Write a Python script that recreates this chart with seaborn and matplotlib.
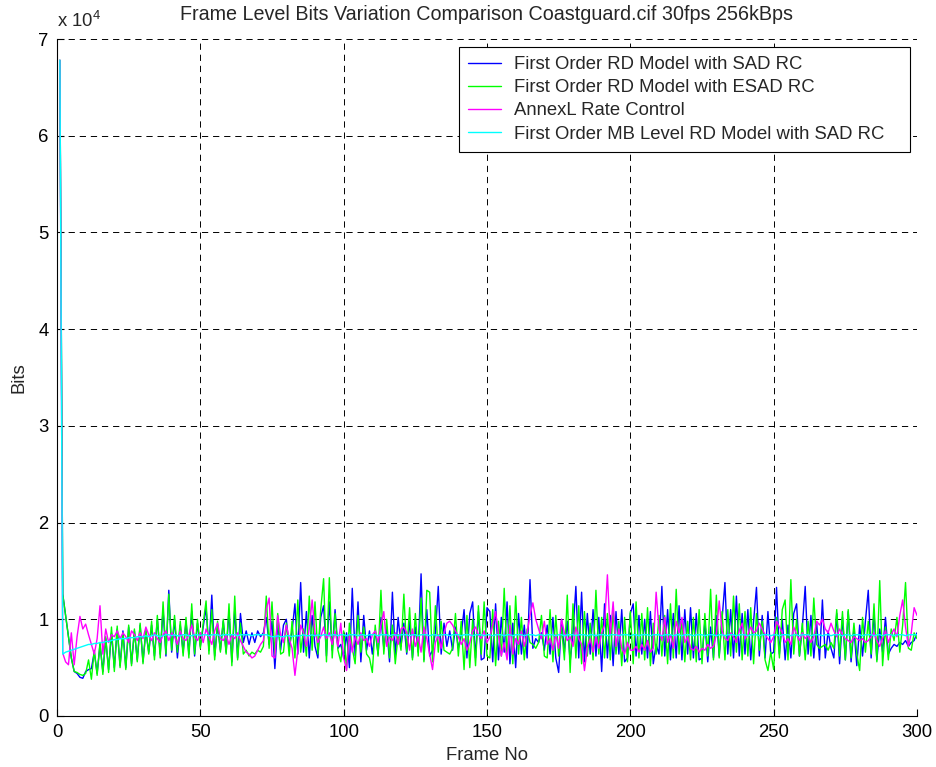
import numpy as np
import pandas as pd
import matplotlib
matplotlib.use("Agg")
import matplotlib.pyplot as plt
import seaborn as sns

# Bits spent on each frame (kilobits), frames 1..300
sad_rc = [
    67.8, 12.6, 10.4, 8.2, 6.0, 4.6, 4.4, 4.0, 3.9, 4.6,
    4.8, 4.9, 6.6, 4.4, 7.4, 4.6, 8.0, 4.8, 8.6, 5.0,
    9.0, 5.2, 8.8, 5.0, 9.2, 5.4, 8.8, 5.8, 9.4, 5.6,
    8.8, 6.6, 9.4, 6.2, 10.0, 6.4, 11.0, 6.2, 13.0, 6.6,
    10.0, 6.0, 9.4, 6.6, 9.8, 6.4, 10.8, 6.2, 9.6, 7.2,
    9.2, 11.2, 6.8, 12.5, 6.2, 9.4, 6.8, 9.8, 6.6, 10.8,
    5.6, 11.0, 6.0, 10.6, 7.6, 8.8, 7.4, 8.6, 7.6, 8.8,
    8.2, 8.6, 10.2, 7.4, 9.8, 4.9, 9.6, 6.8, 9.4, 10.0,
    7.0, 8.8, 11.6, 6.4, 13.8, 6.6, 10.8, 6.0, 10.4, 7.2,
    6.0, 10.2, 11.4, 6.2, 11.8, 6.8, 11.0, 7.0, 7.4, 6.0,
    8.6, 5.0, 13.2, 6.2, 11.8, 5.6, 10.4, 6.8, 8.8, 6.4,
    8.8, 6.4, 10.2, 7.0, 9.2, 5.6, 12.8, 6.2, 10.2, 7.2,
    9.6, 6.4, 9.8, 6.0, 9.2, 6.6, 14.7, 5.8, 11.0, 6.2,
    6.8, 8.6, 13.4, 6.4, 9.6, 7.2, 8.8, 6.8, 9.2, 7.0,
    8.4, 11.0, 6.0, 10.6, 11.8, 6.0, 10.8, 5.8, 6.0, 11.2,
    10.8, 5.6, 11.6, 5.8, 10.2, 6.6, 11.8, 5.4, 9.6, 5.0,
    10.6, 6.4, 9.4, 6.0, 14.1, 7.0, 8.0, 7.6, 8.6, 6.8,
    9.4, 6.4, 10.2, 6.0, 4.5, 10.0, 6.6, 9.8, 5.6, 8.6,
    13.4, 6.0, 12.8, 5.6, 10.6, 6.4, 11.0, 6.2, 10.2, 4.6,
    11.6, 6.0, 10.4, 5.2, 10.8, 6.4, 11.0, 5.6, 6.0, 10.6,
    11.6, 6.2, 10.4, 6.4, 10.0, 6.0, 10.8, 5.4, 7.4, 6.4,
    13.4, 6.2, 11.0, 5.8, 10.6, 6.0, 11.4, 5.8, 11.0, 6.4,
    11.2, 6.0, 10.6, 5.8, 6.0, 9.8, 5.6, 9.2, 6.0, 10.4,
    6.2, 10.0, 13.8, 6.4, 11.0, 6.0, 12.4, 6.2, 10.6, 6.4,
    11.0, 5.8, 9.8, 13.3, 6.2, 10.4, 6.0, 10.8, 6.4, 6.6,
    13.3, 6.4, 10.0, 5.8, 9.4, 6.0, 10.6, 11.6, 6.2, 9.2,
    13.4, 6.4, 10.4, 6.0, 9.6, 5.8, 12.0, 6.0, 8.8, 7.0,
    6.0, 10.6, 5.4, 10.2, 5.8, 10.8, 5.6, 9.0, 5.2, 9.4,
    6.2, 9.8, 13.0, 6.0, 10.6, 5.8, 9.0, 6.6, 10.2, 6.4,
    7.0, 7.4, 7.2, 7.6, 7.4, 7.8, 7.2, 7.6, 7.8, 8.6,
]

esad_rc = [
    67.8, 12.6, 10.4, 8.2, 6.0, 4.6, 4.5, 4.3, 4.2, 4.4,
    5.8, 3.8, 6.8, 4.2, 7.6, 4.3, 8.2, 4.5, 9.2, 4.6,
    9.3, 5.0, 8.6, 4.8, 9.4, 5.2, 9.0, 5.6, 9.6, 5.4,
    9.0, 6.4, 9.8, 5.8, 10.4, 6.0, 11.8, 6.4, 12.6, 6.8,
    10.4, 6.6, 9.8, 6.2, 10.2, 6.0, 11.6, 6.4, 10.0, 7.0,
    9.6, 11.9, 6.4, 11.0, 5.8, 9.8, 6.6, 10.0, 6.4, 11.6,
    5.2, 12.4, 5.8, 9.6, 6.4, 6.8, 6.2, 6.6, 6.4, 6.8,
    6.6, 7.2, 12.4, 7.0, 11.8, 6.4, 10.6, 6.4, 6.6, 9.6,
    6.2, 9.8, 6.0, 12.0, 6.6, 9.0, 6.2, 12.4, 6.8, 11.8,
    6.4, 11.0, 14.2, 5.6, 14.3, 6.0, 10.6, 6.8, 5.6, 8.8,
    4.8, 9.6, 7.0, 5.4, 10.4, 6.6, 9.2, 6.4, 6.0, 4.5,
    9.4, 6.2, 13.0, 6.4, 10.0, 6.0, 9.4, 5.4, 8.4, 6.8,
    12.6, 6.6, 11.2, 5.8, 10.6, 6.2, 12.2, 5.6, 13.0, 12.8,
    5.6, 11.4, 6.6, 9.8, 6.8, 6.6, 6.4, 7.0, 10.6, 6.2,
    9.8, 4.8, 10.4, 5.0, 10.0, 5.2, 11.4, 6.4, 11.8, 6.2,
    6.0, 11.0, 5.2, 9.8, 6.2, 13.2, 6.0, 11.4, 5.4, 12.4,
    6.4, 10.2, 5.8, 9.0, 7.6, 7.4, 7.0, 7.6, 10.4, 6.2,
    6.0, 11.0, 5.6, 10.4, 6.2, 9.2, 5.8, 12.5, 4.5, 11.6,
    6.0, 11.4, 5.4, 10.8, 6.2, 9.6, 5.8, 13.0, 6.4, 10.2,
    6.0, 10.6, 5.8, 11.0, 6.4, 9.8, 5.2, 10.2, 5.6, 10.8,
    5.4, 11.8, 6.0, 10.6, 5.8, 11.2, 5.2, 9.6, 6.4, 10.4,
    6.2, 10.4, 5.4, 11.6, 6.0, 13.1, 6.4, 10.0, 5.6, 9.8,
    5.8, 10.2, 5.6, 11.0, 5.4, 10.6, 6.2, 13.1, 5.8, 12.5,
    6.0, 10.8, 5.8, 11.0, 6.2, 12.4, 6.6, 11.6, 5.8, 10.8,
    6.2, 11.2, 5.4, 10.6, 6.8, 9.8, 5.8, 4.7, 6.6, 4.8,
    10.2, 6.0, 11.0, 12.0, 5.8, 14.1, 6.4, 10.0, 6.2, 9.6,
    5.8, 9.8, 6.2, 12.2, 7.4, 7.0, 7.2, 7.4, 6.8, 7.6,
    7.0, 11.0, 6.2, 10.8, 5.8, 11.0, 6.0, 9.6, 6.4, 4.7,
    10.2, 6.6, 9.8, 6.4, 11.6, 5.6, 14.0, 5.2, 9.2, 5.8,
    9.0, 7.8, 10.2, 6.6, 9.4, 13.8, 7.0, 6.8, 8.6, 8.0,
]

annexl_rc = [
    67.8, 6.5, 5.6, 5.3, 8.6, 5.3, 8.2, 10.3, 9.0, 9.5,
    8.4, 7.4, 6.4, 8.0, 11.4, 6.4, 9.0, 7.6, 8.4, 8.2,
    8.8, 8.0, 8.6, 8.2, 7.6, 8.8, 8.4, 7.8, 8.6, 8.0,
    9.2, 8.4, 7.8, 8.6, 8.0, 7.6, 8.4, 8.8, 7.8, 8.6,
    8.2, 7.4, 8.8, 8.0, 7.8, 8.4, 9.4, 8.2, 7.8, 8.6,
    7.6, 9.0, 8.2, 7.4, 8.8, 9.6, 8.0, 7.8, 8.4, 7.4,
    8.4, 8.0, 8.6, 7.8, 7.2, 6.6, 6.4, 6.0, 6.2, 6.8,
    7.4, 7.8, 11.0, 12.2, 6.2, 6.0, 10.4, 8.4, 7.6, 9.4,
    8.0, 7.0, 4.2, 6.8, 9.4, 8.6, 7.2, 9.0, 12.0, 8.6,
    7.6, 8.2, 9.2, 8.0, 8.6, 7.4, 8.8, 7.2, 9.6, 6.0,
    4.7, 8.4, 6.6, 8.2, 7.4, 8.6, 7.8, 8.0, 7.2, 8.4,
    8.8, 7.6, 9.4, 10.8, 7.2, 8.2, 7.8, 8.6, 7.4, 9.0,
    9.2, 8.6, 6.8, 9.0, 7.2, 8.2, 6.6, 9.2, 8.0, 6.4,
    4.8, 7.6, 8.4, 7.0, 8.6, 9.6, 9.8, 9.4, 8.8, 8.2,
    7.4, 8.0, 6.8, 7.6, 8.8, 9.2, 8.4, 8.0, 8.8, 7.6,
    8.2, 9.4, 10.8, 8.4, 6.2, 7.6, 5.8, 9.4, 6.4, 8.0,
    7.4, 8.8, 7.2, 8.6, 10.4, 11.7, 10.0, 9.0, 8.0, 9.8,
    7.4, 8.0, 6.8, 8.4, 7.0, 10.0, 8.6, 7.8, 8.2, 7.2,
    9.2, 8.0, 7.4, 4.7, 7.0, 8.0, 6.6, 8.2, 7.0, 8.6,
    9.4, 14.6, 8.4, 11.8, 7.2, 9.0, 7.0, 6.4, 7.6, 6.8,
    6.8, 7.2, 6.6, 7.4, 6.8, 7.8, 6.6, 7.0, 12.8, 9.0,
    7.8, 10.2, 7.6, 8.4, 7.0, 9.8, 8.6, 10.2, 7.6, 8.2,
    7.0, 6.8, 7.2, 6.6, 7.0, 6.8, 7.4, 7.0, 7.2, 8.4,
    11.9, 8.8, 8.0, 7.8, 8.6, 8.2, 7.6, 8.8, 9.6, 8.0,
    8.4, 9.2, 8.6, 8.8, 9.6, 9.0, 8.4, 8.0, 7.6, 8.2,
    9.8, 9.2, 8.6, 7.6, 8.0, 7.4, 9.2, 8.4, 7.8, 8.6,
    8.0, 8.4, 7.6, 8.2, 9.8, 9.4, 10.0, 9.0, 8.6, 9.6,
    8.8, 8.2, 9.0, 8.4, 8.0, 7.8, 7.6, 8.2, 8.0, 7.8,
    8.0, 7.6, 7.8, 8.2, 8.6, 7.8, 7.2, 8.0, 8.8, 7.6,
    8.4, 9.0, 8.2, 10.4, 12.0, 9.2, 7.2, 8.6, 11.2, 10.4,
]

mb_sad_rc = [
    67.8, 6.4, 6.6, 6.7, 6.8, 6.9, 7.0, 7.1, 7.2, 7.3,
    7.4, 7.4, 7.5, 7.5, 7.6, 7.6, 7.7, 7.7, 7.8, 7.9,
    7.9, 8.0, 8.0, 8.0, 8.1, 8.1, 8.1, 8.2, 8.2, 8.2,
    8.3, 8.2, 8.3, 8.4, 8.3, 8.2, 8.3, 8.4, 8.4, 8.3,
    8.4, 8.3, 8.3, 8.4, 8.4, 8.3, 8.3, 8.4, 8.4, 8.3,
    8.4, 8.4, 8.3, 8.4, 8.4, 8.4, 8.3, 8.4, 8.4, 8.4,
    8.4, 8.4, 8.3, 8.4, 8.4, 8.4, 8.4, 8.3, 8.4, 8.4,
    8.4, 8.4, 8.4, 8.3, 8.2, 8.2, 8.3, 8.2, 8.2, 8.3,
    8.3, 8.2, 8.3, 8.3, 8.3, 8.4, 8.3, 8.3, 8.4, 8.3,
    8.4, 8.3, 8.4, 8.4, 8.3, 8.4, 8.4, 8.3, 8.4, 8.4,
    8.3, 8.4, 8.4, 8.4, 8.3, 8.4, 8.4, 8.3, 8.4, 8.4,
    8.4, 8.3, 8.4, 8.4, 8.4, 8.3, 8.4, 8.4, 8.3, 8.4,
    8.4, 8.4, 8.3, 8.4, 8.4, 8.3, 8.4, 8.4, 8.4, 8.3,
    8.4, 8.4, 8.3, 8.4, 8.4, 8.4, 8.3, 8.4, 8.4, 8.4,
    8.3, 8.4, 8.4, 8.4, 8.3, 8.4, 8.4, 8.4, 8.3, 8.4,
    8.4, 8.3, 8.4, 8.4, 8.4, 8.3, 8.4, 8.4, 8.3, 8.4,
    8.4, 8.4, 8.3, 8.4, 8.4, 8.4, 8.3, 8.4, 8.4, 8.3,
    8.4, 8.4, 8.4, 8.3, 8.4, 8.4, 8.3, 8.4, 8.4, 8.4,
    8.3, 8.4, 8.4, 8.4, 8.3, 8.4, 8.4, 8.3, 8.4, 8.4,
    8.4, 8.3, 8.4, 8.4, 8.4, 8.3, 8.4, 8.4, 8.4, 8.3,
    8.4, 8.4, 8.3, 8.4, 8.4, 8.4, 8.3, 8.4, 8.4, 8.4,
    8.3, 8.4, 8.4, 8.4, 8.3, 8.4, 8.4, 8.3, 8.4, 8.4,
    8.4, 8.3, 8.4, 8.4, 8.4, 8.3, 8.4, 8.4, 8.4, 8.3,
    8.4, 8.4, 8.3, 8.4, 8.4, 8.4, 8.3, 8.4, 8.4, 8.4,
    8.3, 8.4, 8.4, 8.4, 8.3, 8.4, 8.4, 8.4, 8.3, 8.4,
    8.4, 8.3, 8.4, 8.4, 8.4, 8.3, 8.4, 8.4, 8.3, 8.4,
    8.4, 8.4, 8.3, 8.4, 8.4, 8.4, 8.3, 8.4, 8.4, 8.3,
    8.4, 8.4, 8.4, 8.3, 8.4, 8.4, 8.3, 8.4, 8.4, 8.4,
    8.3, 8.4, 8.4, 8.4, 8.3, 8.4, 8.4, 8.3, 8.4, 8.4,
    8.4, 8.3, 8.4, 8.4, 8.4, 8.3, 8.4, 8.4, 8.4, 8.4,
]

series_names = [
    "First Order RD Model with SAD RC",
    "First Order RD Model with ESAD RC",
    "AnnexL Rate Control",
    "First Order MB Level RD Model with SAD RC",
]
series_colors = ["#0000ff", "#00ff00", "#ff00ff", "#00ffff"]
x_ticks = [0, 50, 100, 150, 200, 250, 300]
y_ticks = [0, 1, 2, 3, 4, 5, 6, 7]  # in units of 10^4 bits

frames = np.arange(1, len(sad_rc) + 1)
frames_df = pd.concat(
    [
        pd.DataFrame({"Frame No": frames, "Bits": np.asarray(vals) * 1000.0, "series": name})
        for name, vals in zip(series_names, [sad_rc, esad_rc, annexl_rc, mb_sad_rc])
    ],
    ignore_index=True,
)

sns.set_style("white")
plt.rcParams["font.family"] = ["Liberation Sans", "DejaVu Sans"]
plt.rcParams["mathtext.default"] = "regular"
plt.rcParams["lines.scale_dashes"] = False

fig = plt.figure(figsize=(9.36, 7.67), dpi=100)
W, H = 936, 767
ax = fig.add_axes([57 / W, 1 - 716 / H, 860 / W, 677 / H])

sns.lineplot(
    data=frames_df, x="Frame No", y="Bits", hue="series",
    hue_order=series_names, palette=dict(zip(series_names, series_colors)),
    linewidth=1.0, estimator=None, sort=False, ax=ax,
)

fs = 13.3
ax.set_xlim(0, 300)
ax.set_ylim(0, 7e4)
ax.set_xticks(x_ticks)
ax.set_xticklabels([str(t) for t in x_ticks])
ax.set_yticks([t * 1e4 for t in y_ticks])
ax.set_yticklabels([str(t) for t in y_ticks])
ax.tick_params(direction="in", length=5, width=0.8, labelsize=fs, colors="black",
               left=True, bottom=True, pad=6)

ax.grid(True, color="black", linestyle=(0, (4.5, 3.5)), linewidth=0.7)
ax.set_axisbelow(True)
for side in ["top", "right"]:
    ax.spines[side].set_visible(False)
for side in ["left", "bottom"]:
    ax.spines[side].set_color("black")
    ax.spines[side].set_linewidth(0.8)

ax.set_xlabel("Frame No", fontsize=fs)
ax.set_ylabel("Bits", fontsize=fs)
ax.xaxis.set_label_coords(0.5, -0.046)
ax.yaxis.set_label_coords(-0.034, 0.5)
ax.set_title("Frame Level Bits Variation Comparison Coastguard.cif 30fps 256kBps",
             fontsize=14.2, pad=14)
ax.text(0.0, 1.012, "x 10$^{4}$", transform=ax.transAxes, ha="left", va="bottom",
        fontsize=fs)

handles, labels = ax.get_legend_handles_labels()
leg = ax.legend(
    handles, labels, loc="upper left",
    bbox_to_anchor=((459 - 57) / 860, 0.0, (910 - 459) / 860, (716 - 47) / 677),
    mode="expand", borderaxespad=0, fontsize=fs, frameon=True, fancybox=False,
    framealpha=1, edgecolor="black", borderpad=0.5, labelspacing=0.33,
    handlelength=1.8, handletextpad=0.7,
)
leg.get_frame().set_linewidth(0.8)

fig.savefig("out.png", dpi=100)
